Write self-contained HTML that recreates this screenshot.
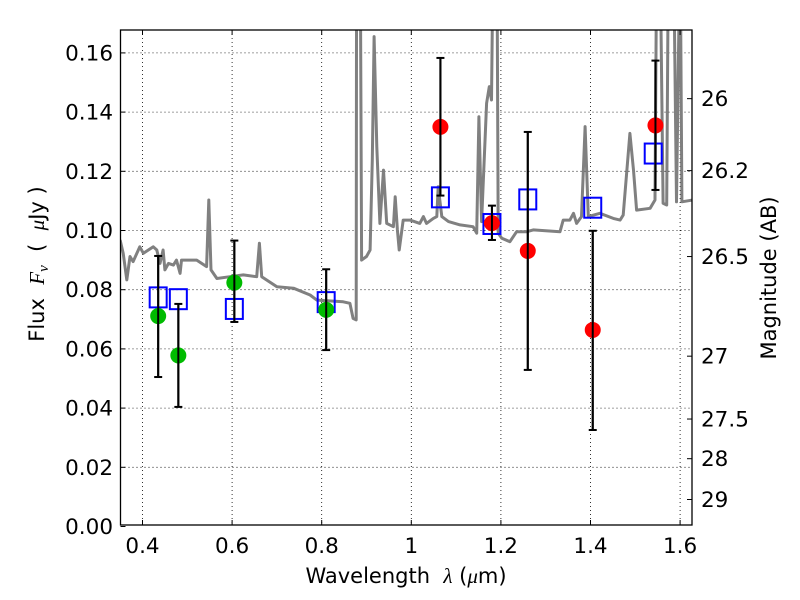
<!DOCTYPE html>
<html><head><meta charset="utf-8">
<style>
html,body{margin:0;padding:0;background:#fff;}
svg{display:block;font-family:"DejaVu Sans","Liberation Sans",sans-serif;}
text{white-space:pre;}
</style></head>
<body>
<svg id="chart" width="800" height="600" viewBox="0 0 800 600" xmlns="http://www.w3.org/2000/svg">
<defs><clipPath id="clip"><rect x="120.5" y="30" width="571.5" height="495"/></clipPath></defs>
<rect x="0" y="0" width="800" height="600" fill="#fff"/>
<g id="grid"></g>
<g id="spectrum" clip-path="url(#clip)"></g>
<g id="marks" clip-path="url(#clip)"></g>
<rect x="120.5" y="30" width="571.5" height="495" fill="none" stroke="#000" stroke-width="1.3"/>
<g id="axes"></g>
<text x="406" y="583" font-size="21" text-anchor="middle">Wavelength  <tspan font-style="italic" font-family="Liberation Serif, serif">λ</tspan> (<tspan font-style="italic" font-family="Liberation Serif, serif">μ</tspan>m)</text>
<text transform="translate(44,264) rotate(-90)" font-size="21" text-anchor="middle">Flux  <tspan font-style="italic" font-family="Liberation Serif, serif">F<tspan font-size="15" dy="4">ν</tspan></tspan><tspan dy="-4">  (  </tspan><tspan font-style="italic" font-family="Liberation Serif, serif">μ</tspan>Jy )</text>
<text transform="translate(776,278) rotate(-90)" font-size="21" text-anchor="middle">Magnitude (AB)</text>
</svg>
<script>
const xTicks=[0.4,0.6,0.8,1.0,1.2,1.4,1.6];
const xTickLabels=["0.4","0.6","0.8","1","1.2","1.4","1.6"];
const yTicks=[0,0.02,0.04,0.06,0.08,0.10,0.12,0.14,0.16];
const yTickLabels=["0.00","0.02","0.04","0.06","0.08","0.10","0.12","0.14","0.16"];
const magTicks=[26,26.2,26.5,27,27.5,28,29];
const magTickLabels=["26","26.2","26.5","27","27.5","28","29"];
const specWave=[0.350,0.357,0.365,0.372,0.379,0.394,0.402,0.424,0.432,0.439,0.446,0.450,0.458,0.469,0.476,0.484,0.487,0.499,0.521,0.543,0.548,0.553,0.566,0.595,0.625,0.655,0.661,0.666,0.700,0.737,0.774,0.789,0.848,0.863,0.870,0.877,0.878,0.886,0.889,0.900,0.908,0.913,0.917,0.923,0.930,0.938,0.945,0.960,0.964,0.969,0.973,0.982,0.997,1.019,1.027,1.034,1.049,1.057,1.060,1.068,1.083,1.109,1.138,1.146,1.151,1.157,1.168,1.174,1.179,1.183,1.191,1.194,1.202,1.220,1.235,1.258,1.272,1.332,1.339,1.354,1.362,1.369,1.380,1.388,1.395,1.421,1.451,1.466,1.473,1.488,1.496,1.503,1.533,1.544,1.548,1.555,1.562,1.570,1.574,1.585,1.592,1.600,1.604,1.628];
const specFlux=[0.0968,0.0923,0.0833,0.0912,0.0895,0.0945,0.0923,0.0945,0.0934,0.0889,0.0934,0.0867,0.0889,0.0883,0.0900,0.0855,0.0900,0.0900,0.0900,0.0878,0.1103,0.0867,0.0838,0.0844,0.0850,0.0844,0.0957,0.0844,0.0810,0.0805,0.0782,0.0765,0.0759,0.0754,0.0703,0.0698,0.2,0.2,0.0900,0.0912,0.0934,0.1238,0.1655,0.1283,0.1024,0.1204,0.1024,0.1013,0.1114,0.1002,0.0934,0.1035,0.1035,0.1024,0.1047,0.1024,0.1041,0.1047,0.1148,0.1047,0.1030,0.1019,0.1013,0.0991,0.1384,0.1030,0.1430,0.1486,0.1441,0.2,0.2,0.0991,0.0974,0.0962,0.0996,0.0996,0.1002,0.0996,0.1035,0.1035,0.1058,0.1024,0.1047,0.1351,0.1047,0.1058,0.1041,0.1035,0.1052,0.1328,0.1204,0.1069,0.1075,0.1103,0.2,0.2,0.1092,0.1086,0.2,0.2,0.1097,0.2,0.1097,0.1103];
const circWave=[0.435,0.48,0.605,0.81,1.065,1.18,1.26,1.405,1.545];
const circFlux=[0.0711,0.0578,0.0824,0.0732,0.1350,0.1025,0.0931,0.0664,0.1355];
const circColor=["#00bb00","#00bb00","#00bb00","#00bb00","#ff0000","#ff0000","#ff0000","#ff0000","#ff0000"];
const errLow=[0.0505,0.0404,0.0691,0.0596,0.1118,0.0968,0.0529,0.0326,0.1137];
const errHigh=[0.0914,0.0752,0.0966,0.0869,0.1583,0.1084,0.1333,0.0999,0.1574];
const sqWave=[0.435,0.48,0.605,0.81,1.065,1.18,1.26,1.405,1.54];
const sqFlux=[0.0774,0.0768,0.0735,0.0758,0.1112,0.1022,0.1105,0.1077,0.1260];

const NS="http://www.w3.org/2000/svg";
const L=120.5,R=692,T=30,B=525;
function xs(v){return 142.5+(v-0.4)*448;}
function ys(v){return 526.5-v*2960;}
function mk(tag,attrs,parent){const e=document.createElementNS(NS,tag);for(const k in attrs)e.setAttribute(k,attrs[k]);parent.appendChild(e);return e;}
const grid=document.getElementById('grid'),axes=document.getElementById('axes'),spec=document.getElementById('spectrum'),marks=document.getElementById('marks');
xTicks.forEach((t,i)=>{const x=xs(t);
 const g=mk('line',{x1:x,x2:x,y1:T,y2:B,stroke:'#000','stroke-width':0.8,'stroke-dasharray':'1,3'},grid);
 
 mk('line',{x1:x,x2:x,y1:B,y2:B-5,stroke:'#000'},axes);mk('line',{x1:x,x2:x,y1:T,y2:T+5,stroke:'#000'},axes);
 const tx=mk('text',{x:x,y:553,'font-size':21.5,'text-anchor':'middle'},axes);tx.textContent=xTickLabels[i];
 });
yTicks.forEach((t,i)=>{const y=ys(t);
 if(t>0){const g=mk('line',{x1:L,x2:R,y1:y,y2:y,stroke:'#000','stroke-width':0.8,'stroke-dasharray':'1,3'},grid);
 }
 mk('line',{x1:L,x2:L+5,y1:y,y2:y,stroke:'#000'},axes);
 const tx=mk('text',{x:113,y:y+7.5,'font-size':21.5,'text-anchor':'end'},axes);tx.textContent=yTickLabels[i];
 });
magTicks.forEach((m,i)=>{const y=ys(Math.pow(10,(23.9-m)/2.5));
 mk('line',{x1:R,x2:R-5,y1:y,y2:y,stroke:'#000'},axes);
 const tx=mk('text',{x:701,y:y+7.5,'font-size':21.5},axes);tx.textContent=magTickLabels[i];
 });
const pts=specWave.map((w,i)=>xs(w).toFixed(1)+','+ys(specFlux[i]).toFixed(1)).join(' ');
const pl=mk('polyline',{points:pts,fill:'none',stroke:'#808080','stroke-width':3,'stroke-linejoin':'round'},spec);

circWave.forEach((w,i)=>{const x=xs(w);
 const eb=mk('g',{stroke:'#000','stroke-width':2},marks);
 
 mk('line',{x1:x,x2:x,y1:ys(errLow[i]),y2:ys(errHigh[i])},eb);
 mk('line',{x1:x-4,x2:x+4,y1:ys(errLow[i]),y2:ys(errLow[i])},eb);
 mk('line',{x1:x-4,x2:x+4,y1:ys(errHigh[i]),y2:ys(errHigh[i])},eb);});
sqWave.forEach((w,i)=>{const x=xs(w),y=ys(sqFlux[i]);
 const s=mk('rect',{x:x-8.5,y:y-10,width:17,height:20,fill:'none',stroke:'#0000ff','stroke-width':2},marks);
 });
circWave.forEach((w,i)=>{
 const c=mk('circle',{cx:xs(w),cy:ys(circFlux[i]),r:8,fill:circColor[i]},marks);
 });
circWave.forEach((w,i)=>{const x=xs(w);
 const l=mk('line',{x1:x,x2:x,y1:ys(errLow[i]),y2:ys(errHigh[i]),stroke:'#000','stroke-width':2},marks);
 });
</script>
</body></html>
